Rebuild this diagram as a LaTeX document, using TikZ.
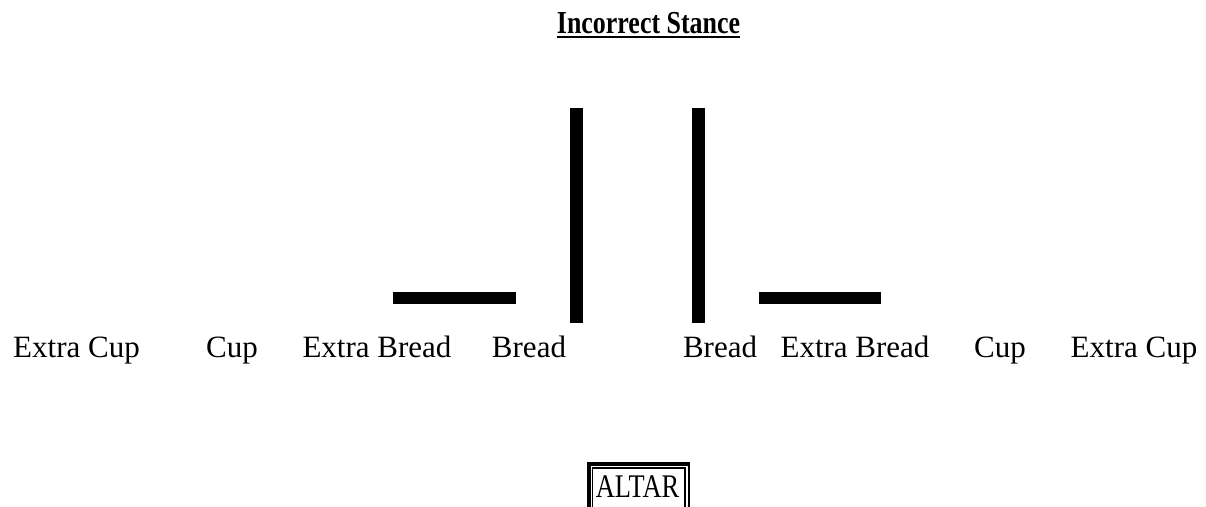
\documentclass[tikz,border=0pt]{standalone}
\usepackage{fontspec}
\setmainfont{Liberation Serif}
\begin{document}
\begin{tikzpicture}[x=1pt,y=-1pt,
  lbl/.style={anchor=base,inner sep=0pt,font=\fontsize{31}{36}\selectfont},
  bar/.style={fill=black}]
\useasboundingbox (0,0) rectangle (1206,506);
% title
\node[anchor=base,inner sep=0pt,font=\fontsize{32}{36}\selectfont\bfseries] (title) at (648.5,33) {\scalebox{0.81}[1]{Incorrect Stance}};
\draw[line width=2] ([yshift=-4pt]title.base west) -- ([yshift=-4pt]title.base east);
% bars
\fill[bar] (570,108) rectangle (583,323);
\fill[bar] (692,108) rectangle (705,323);
\fill[bar] (393,292) rectangle (516,303.5);
\fill[bar] (759,292) rectangle (881,303.5);
% labels
\node[lbl] (l1) at (76.5,357) {Extra Cup};
\node[lbl] (l2) at (232,357) {Cup};
\node[lbl] (l3) at (377,357) {Extra Bread};
\node[lbl] (l4) at (529,357) {Bread};
\node[lbl] (r4) at (720,357) {Bread};
\node[lbl] (r3) at (855,357) {Extra Bread};
\node[lbl] (r2) at (1000,357) {Cup};
\node[lbl] (r1) at (1134,357) {Extra Cup};
% altar
\draw[line width=1.5] (588.5,463.5) rectangle (689,520);
\draw[line width=3.5] (588.75,520) -- (588.75,463.75) -- (689.5,463.75);
\draw[line width=1.2] (592.5,468) rectangle (685,515);
\node[anchor=base,inner sep=0pt,font=\fontsize{33}{38}\selectfont] (altar) at (637.5,497) {\scalebox{0.8}[1]{ALTAR}};
\end{tikzpicture}
\end{document}
